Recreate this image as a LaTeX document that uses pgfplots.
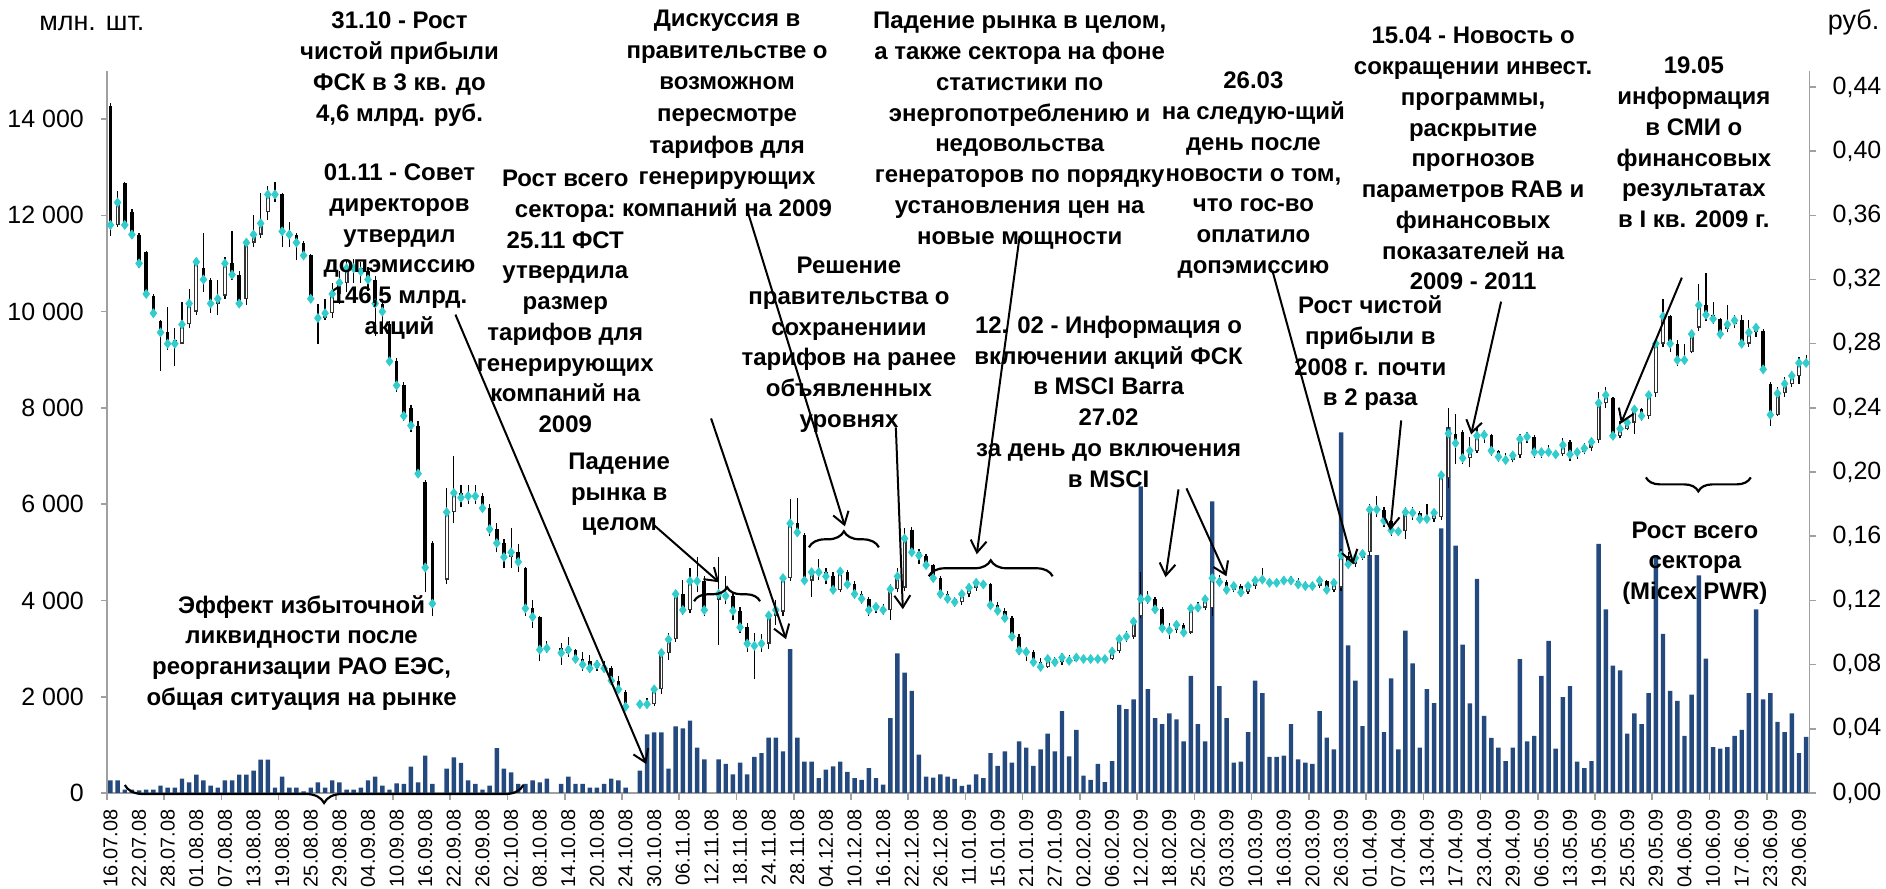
\documentclass[border=0pt]{standalone}
\usepackage{fontspec}
\setmainfont{Liberation Sans}
\usepackage{pgfplots}
\pgfplotsset{compat=1.18}
\usepackage{pgfplotstable}
\usetikzlibrary{arrows.meta,decorations.pathreplacing}
\definecolor{barblue}{RGB}{35,73,126}
\definecolor{dia}{RGB}{51,204,204}
\definecolor{axgray}{RGB}{160,160,160}

\pgfplotstableread{
x vol o h l c
0 263 0.428 0.430 0.347 0.354
1 263 0.354 0.375 0.353 0.368
2 69 0.380 0.381 0.352 0.354
3 69 0.362 0.364 0.345 0.348
4 55 0.348 0.349 0.327 0.330
5 69 0.337 0.338 0.309 0.311
6 69 0.310 0.311 0.296 0.299
7 152 0.294 0.295 0.263 0.287
8 111 0.287 0.303 0.276 0.280
9 111 0.282 0.290 0.266 0.280
10 297 0.280 0.306 0.280 0.292
11 221 0.292 0.314 0.290 0.305
12 380 0.300 0.333 0.298 0.331
13 263 0.327 0.349 0.312 0.320
14 152 0.320 0.321 0.299 0.305
15 111 0.305 0.320 0.298 0.308
16 263 0.310 0.334 0.308 0.330
17 263 0.330 0.350 0.320 0.323
18 380 0.323 0.325 0.304 0.305
19 380 0.308 0.346 0.304 0.343
20 463 0.343 0.360 0.340 0.348
21 692 0.348 0.374 0.346 0.355
22 692 0.362 0.378 0.357 0.373
23 111 0.373 0.381 0.368 0.373
24 339 0.373 0.374 0.340 0.350
25 111 0.350 0.356 0.340 0.348
26 111 0.348 0.349 0.332 0.343
27 35 0.343 0.344 0.332 0.335
28 111 0.335 0.336 0.307 0.308
29 221 0.298 0.305 0.280 0.296
30 111 0.296 0.308 0.295 0.299
31 263 0.299 0.318 0.296 0.311
32 221 0.311 0.325 0.305 0.318
33 69 0.318 0.332 0.312 0.327
34 69 0.327 0.333 0.318 0.327
35 111 0.327 0.331 0.318 0.325
36 263 0.325 0.328 0.313 0.320
37 339 0.320 0.322 0.285 0.305
38 152 0.305 0.308 0.290 0.300
39 69 0.292 0.294 0.266 0.269
40 200 0.269 0.271 0.250 0.254
41 187 0.254 0.256 0.232 0.235
42 546 0.240 0.242 0.225 0.229
43 221 0.229 0.232 0.197 0.199
44 775 0.194 0.195 0.125 0.1405
45 187 0.156 0.157 0.110 0.118
47 505 0.133 0.190 0.130 0.175
48 740 0.175 0.210 0.168 0.187
49 625 0.187 0.192 0.178 0.184
50 263 0.184 0.192 0.180 0.185
51 187 0.185 0.192 0.180 0.185
52 69 0.185 0.187 0.175 0.1775
53 152 0.1775 0.180 0.160 0.1644
54 934 0.1644 0.168 0.150 0.1557
55 505 0.1557 0.158 0.140 0.147
56 430 0.147 0.165 0.140 0.150
57 187 0.150 0.155 0.138 0.144
58 187 0.140 0.141 0.110 0.115
59 263 0.115 0.120 0.103 0.1097
60 221 0.1097 0.110 0.082 0.0893
61 297 0.0893 0.095 0.087 0.0902
63 187 0.0902 0.0935 0.080 0.0873
64 339 0.0873 0.0975 0.085 0.0893
65 187 0.0893 0.090 0.082 0.0835
66 187 0.0835 0.088 0.076 0.080
67 111 0.082 0.086 0.075 0.0777
68 111 0.0777 0.083 0.076 0.080
69 187 0.080 0.082 0.076 0.0777
70 297 0.0777 0.079 0.068 0.070
71 263 0.070 0.073 0.062 0.0646
72 111 0.063 0.064 0.051 0.0538
74 463 0.0538 0.058 0.053 0.0553
75 1217 0.0553 0.059 0.054 0.0553
76 1259 0.0553 0.066 0.054 0.0646
77 1259 0.0646 0.090 0.062 0.0873
78 505 0.0873 0.100 0.083 0.0957
79 1383 0.0957 0.126 0.094 0.124
80 1342 0.124 0.133 0.111 0.114
81 1501 0.114 0.140 0.112 0.132
82 940 0.132 0.147 0.125 0.132
83 700 0.132 0.135 0.110 0.114
85 700 0.120 0.147 0.092 0.124
86 603 0.124 0.135 0.118 0.1228
87 389 0.1228 0.125 0.108 0.1135
88 632 0.1135 0.116 0.100 0.1033
89 389 0.1033 0.106 0.088 0.0931
90 749 0.0931 0.100 0.071 0.0917
91 827 0.0917 0.099 0.088 0.0931
92 1148 0.0931 0.113 0.090 0.1106
93 1148 0.1106 0.120 0.105 0.114
94 866 0.113 0.136 0.110 0.1339
95 2986 0.1339 0.183 0.132 0.168
96 1148 0.168 0.184 0.160 0.1624
97 652 0.161 0.162 0.130 0.1324
98 652 0.1324 0.140 0.122 0.1376
99 311 0.1376 0.146 0.133 0.1376
100 486 0.1376 0.140 0.130 0.135
101 554 0.135 0.138 0.124 0.1266
102 652 0.1266 0.140 0.125 0.138
103 438 0.138 0.139 0.127 0.130
104 311 0.130 0.132 0.121 0.124
105 272 0.124 0.126 0.118 0.121
106 515 0.121 0.122 0.110 0.114
107 311 0.114 0.118 0.112 0.116
108 175 0.116 0.118 0.111 0.114
109 1556 0.114 0.130 0.108 0.127
110 2898 0.127 0.140 0.125 0.135
111 2500 0.128 0.165 0.126 0.1586
112 2120 0.164 0.166 0.148 0.150
113 797 0.150 0.152 0.143 0.148
114 340 0.148 0.149 0.140 0.142
115 321 0.142 0.143 0.132 0.1339
116 389 0.1339 0.135 0.122 0.124
117 340 0.124 0.126 0.119 0.121
118 292 0.121 0.122 0.116 0.119
119 146 0.119 0.126 0.117 0.124
120 175 0.124 0.130 0.122 0.128
121 389 0.128 0.133 0.126 0.131
122 311 0.131 0.133 0.127 0.130
123 827 0.130 0.131 0.115 0.117
124 564 0.117 0.119 0.111 0.1135
125 866 0.1135 0.115 0.107 0.109
126 632 0.109 0.110 0.095 0.0975
127 1070 0.0975 0.099 0.086 0.0888
128 943 0.0888 0.091 0.082 0.0879
129 564 0.0879 0.089 0.080 0.0815
130 905 0.0815 0.084 0.077 0.0786
131 1235 0.0786 0.086 0.078 0.0835
132 866 0.0835 0.085 0.079 0.0815
133 1702 0.0815 0.087 0.080 0.0844
134 759 0.0844 0.086 0.081 0.0824
135 1313 0.0824 0.087 0.082 0.0844
136 360 0.0844 0.086 0.082 0.0835
137 272 0.0835 0.085 0.082 0.0835
138 603 0.0835 0.085 0.082 0.0835
139 224 0.0835 0.085 0.082 0.0835
140 661 0.0835 0.091 0.083 0.0882
141 1829 0.0882 0.098 0.087 0.096
142 1741 0.096 0.101 0.094 0.0975
143 1945 0.0975 0.108 0.096 0.1068
144 6370 0.110 0.138 0.109 0.1208
145 2159 0.1208 0.126 0.118 0.121
146 1556 0.121 0.122 0.112 0.1144
147 1430 0.1144 0.116 0.100 0.1027
148 1653 0.1027 0.106 0.096 0.1013
149 1527 0.1013 0.107 0.100 0.1048
150 1070 0.1048 0.106 0.097 0.100
151 2432 0.100 0.117 0.099 0.115
152 1430 0.115 0.119 0.113 0.1155
153 1070 0.1155 0.123 0.114 0.1208
154 6059 0.115 0.137 0.110 0.1339
155 2218 0.1339 0.136 0.129 0.1315
156 1556 0.1315 0.133 0.124 0.1266
157 632 0.1266 0.131 0.125 0.129
158 652 0.129 0.130 0.122 0.125
159 1264 0.125 0.131 0.124 0.129
160 2334 0.129 0.135 0.127 0.1324
161 2072 0.1324 0.140 0.130 0.133
162 749 0.133 0.134 0.129 0.131
163 749 0.131 0.133 0.129 0.131
164 778 0.131 0.134 0.130 0.1324
165 1430 0.1324 0.135 0.130 0.1324
166 700 0.1324 0.134 0.128 0.130
167 632 0.130 0.132 0.127 0.129
168 603 0.129 0.131 0.127 0.129
169 1702 0.129 0.134 0.128 0.1324
170 1148 0.1324 0.133 0.125 0.1266
171 905 0.1266 0.133 0.125 0.131
172 7489 0.128 0.152 0.126 0.148
173 3064 0.148 0.150 0.140 0.1426
174 2334 0.1426 0.150 0.141 0.1464
175 1391 0.1464 0.151 0.145 0.149
176 4941 0.150 0.180 0.148 0.1766
177 4941 0.1766 0.185 0.172 0.1766
178 1264 0.1766 0.178 0.166 0.1697
179 2383 0.1697 0.174 0.160 0.1638
180 905 0.1638 0.166 0.160 0.163
181 3375 0.163 0.178 0.158 0.175
182 2694 0.175 0.178 0.170 0.1746
183 943 0.1746 0.176 0.168 0.1708
184 2159 0.1708 0.180 0.169 0.1708
185 1867 0.1708 0.177 0.169 0.1746
186 5495 0.172 0.200 0.170 0.198
187 7600 0.196 0.240 0.190 0.224
188 5140 0.224 0.236 0.205 0.218
189 3080 0.225 0.226 0.205 0.2087
190 1860 0.2087 0.222 0.203 0.2133
191 4450 0.2133 0.228 0.212 0.2226
192 1600 0.2226 0.226 0.218 0.2232
193 1145 0.2232 0.224 0.210 0.2133
194 940 0.2133 0.214 0.206 0.2095
195 660 0.2095 0.212 0.205 0.2075
196 940 0.2075 0.213 0.206 0.2104
197 2780 0.2104 0.224 0.209 0.2206
198 1070 0.2206 0.225 0.218 0.222
199 1187 0.222 0.223 0.209 0.2124
200 2432 0.2124 0.215 0.209 0.2124
201 3161 0.2124 0.217 0.210 0.2124
202 924 0.2124 0.214 0.209 0.211
203 1994 0.211 0.221 0.210 0.2168
204 2218 0.219 0.220 0.207 0.211
205 652 0.211 0.214 0.208 0.2124
206 515 0.2124 0.218 0.211 0.2148
207 661 0.2148 0.221 0.213 0.2188
208 5174 0.2197 0.250 0.218 0.243
209 3813 0.243 0.253 0.240 0.248
210 2645 0.246 0.247 0.221 0.2226
211 2548 0.2226 0.232 0.221 0.227
212 1235 0.227 0.234 0.226 0.2308
213 1653 0.2308 0.241 0.224 0.239
214 1430 0.239 0.240 0.232 0.235
215 2072 0.235 0.250 0.233 0.248
216 4941 0.249 0.283 0.247 0.280
217 3307 0.280 0.308 0.278 0.297
218 2120 0.297 0.298 0.275 0.280
219 1916 0.280 0.282 0.266 0.2698
220 1187 0.2698 0.280 0.267 0.2698
221 2042 0.275 0.288 0.274 0.286
222 4523 0.290 0.317 0.288 0.304
223 2791 0.304 0.324 0.294 0.298
224 953 0.298 0.306 0.292 0.2954
225 924 0.2954 0.296 0.283 0.286
226 953 0.289 0.304 0.287 0.292
227 1187 0.292 0.298 0.290 0.2945
228 1313 0.2945 0.298 0.278 0.280
229 2072 0.280 0.295 0.278 0.287
230 3813 0.287 0.292 0.284 0.290
231 1945 0.288 0.289 0.262 0.264
232 2072 0.255 0.256 0.229 0.2357
233 1478 0.2357 0.253 0.235 0.249
234 1264 0.249 0.259 0.247 0.255
235 1653 0.255 0.263 0.253 0.260
236 827 0.260 0.272 0.255 0.268
237 1167 0.268 0.273 0.266 0.268
}\data

\tikzset{
  ann/.style={font=\bfseries\fontsize{12}{15.4}\selectfont, align=center, inner sep=0pt, anchor=north},
  arr/.style={line width=1pt, -{Straight Barb[length=6pt,width=8pt]}},
  br/.style={line width=1.1pt, decorate}
}

\begin{document}
\begin{tikzpicture}
\begin{scope}[x=0.5pt,y=-0.5pt,shift={(-53.5pt,397pt)}]
\useasboundingbox (0,0) rectangle (1886,890);
\end{scope}

\begin{pgfinterruptboundingbox}
\begin{axis}[
  at={(0pt,0pt)}, anchor=south west,
  scale only axis, width=852.5pt, height=361.5pt,
  clip=false,
  xmin=-0.5, xmax=237.5, ymin=0, ymax=15000,
  scaled y ticks=false,
  axis y line*=left, axis x line*=bottom,
  axis line style={axgray, line width=0.8pt},
  tick align=outside, major tick length=3pt,
  ytick={0,2000,4000,6000,8000,10000,12000,14000},
  yticklabels={0,2 000,4 000,6 000,8 000,10 000,12 000,14 000},
  ytick style={axgray, line width=0.8pt},
  yticklabel style={font=\fontsize{12.5}{14}\selectfont, xshift=-5pt},
  xtick={0,4,...,236},
  xtick style={draw=none},
  xticklabels={16.07.08,22.07.08,28.07.08,01.08.08,07.08.08,13.08.08,19.08.08,25.08.08,29.08.08,04.09.08,10.09.08,16.09.08,22.09.08,26.09.08,02.10.08,08.10.08,14.10.08,20.10.08,24.10.08,30.10.08,06.11.08,12.11.08,18.11.08,24.11.08,28.11.08,04.12.08,10.12.08,16.12.08,22.12.08,26.12.08,11.01.09,15.01.09,21.01.09,27.01.09,02.02.09,06.02.09,12.02.09,18.02.09,25.02.09,03.03.09,10.03.09,16.03.09,20.03.09,26.03.09,01.04.09,07.04.09,13.04.09,17.04.09,23.04.09,29.04.09,06.05.09,13.05.09,19.05.09,25.05.09,29.05.09,04.06.09,10.06.09,17.06.09,23.06.09,29.06.09},
  xticklabel style={font=\fontsize{10}{11}\selectfont, inner sep=1pt, yshift=-4pt, rotate=90, anchor=east},
]
\addplot[ybar, bar width=0.62, fill=barblue, draw=none] table[x=x, y=vol] {\data};
\pgfplotsinvokeforeach{0,...,29}{
  \draw[axgray, line width=0.8pt] (axis cs:{8*#1-0.5},0) -- ++(0pt,-3.5pt);
}
\end{axis}

\begin{axis}[
  at={(0pt,0pt)}, anchor=south west,
  scale only axis, width=852.5pt, height=361.5pt,
  clip=false,
  xmin=-0.5, xmax=237.5, ymin=0, ymax=0.45,
  axis y line*=right, axis x line=none,
  axis line style={axgray, line width=0.8pt},
  tick align=outside, major tick length=3pt,
  ytick={0,0.04,0.08,0.12,0.16,0.2,0.24,0.28,0.32,0.36,0.4,0.44},
  yticklabels={{0,00},{0,04},{0,08},{0,12},{0,16},{0,20},{0,24},{0,28},{0,32},{0,36},{0,40},{0,44}},
  ytick style={axgray, line width=0.8pt},
  yticklabel style={font=\fontsize{12.5}{14}\selectfont, xshift=5pt},
]
% wicks
\addplot[draw=none, mark=none, forget plot,
  error bars/.cd, y dir=plus, y explicit, error mark=none,
  error bar style={draw=black, line width=0.6pt}]
  table[x=x, y=l, y error expr=\thisrow{h}-\thisrow{l}] {\data};
% down bodies
\addplot[draw=none, mark=none, forget plot,
  restrict expr to domain={\thisrow{o}-\thisrow{c}}{0.00001:1},
  error bars/.cd, y dir=plus, y explicit, error mark=none,
  error bar style={draw=black, line width=1.8pt}]
  table[x=x, y=c, y error expr=\thisrow{o}-\thisrow{c}] {\data};
% up bodies
\addplot[draw=none, mark=none, forget plot,
  restrict expr to domain={\thisrow{c}-\thisrow{o}}{0:1},
  error bars/.cd, y dir=plus, y explicit, error mark=none,
  error bar style={draw=black!80, line width=2pt}]
  table[x=x, y=o, y error expr=\thisrow{c}-\thisrow{o}] {\data};
\addplot[draw=none, mark=none, forget plot,
  restrict expr to domain={\thisrow{c}-\thisrow{o}}{0.003:1},
  error bars/.cd, y dir=plus, y explicit, error mark=none,
  error bar style={draw=white, line width=0.8pt, shorten <=0.6pt, shorten >=0.6pt}]
  table[x=x, y=o, y error expr=\thisrow{c}-\thisrow{o}] {\data};
% close markers
\addplot[only marks, mark=diamond*, mark size=2.2pt, color=dia, mark options={draw=dia, fill=dia}]
  table[x=x, y=c] {\data};
\end{axis}
\end{pgfinterruptboundingbox}

\begin{scope}[x=0.5pt,y=-0.5pt,shift={(-53.5pt,397pt)}]
\node[font=\fontsize{13.5}{15}\selectfont] at (92,24) {млн. шт.};
\node[font=\fontsize{13.5}{15}\selectfont] at (1856,22) {руб.};

\node[ann] at (400,10.5) {\rule{0pt}{9pt}31.10 - Рост\\чистой прибыли\\ФСК в 3 кв. до\\4,6 млрд. руб.};
\node[ann] at (400,162.5) {\rule{0pt}{9pt}01.11 - Совет\\директоров\\утвердил\\допэмиссию\\146,5 млрд.\\акций};
\node[ann] at (566,168.5) {\rule{0pt}{9pt}Рост всего\\сектора:\\25.11 ФСТ\\утвердила\\размер\\тарифов для\\генерирующих\\компаний  на\\2009};
\node[ann] at (620,451.5) {\rule{0pt}{9pt}Падение\\рынка в\\целом};
\node[ann] at (302,595.5) {\rule{0pt}{9pt}Эффект избыточной\\ликвидности после\\реорганизации РАО ЕЭС,\\общая ситуация на рынке};
\node[ann, font=\bfseries\fontsize{12}{15.8}\selectfont] at (728,8.5) {\rule{0pt}{9pt}Дискуссия в\\правительстве  о\\возможном\\пересмотре\\тарифов для\\генерирующих\\компаний  на 2009};
\node[ann] at (1021,10.5) {\rule{0pt}{9pt}Падение рынка в целом,\\а также сектора на фоне\\статистики по\\энергопотреблению и\\недовольства\\генераторов по порядку\\установления цен на\\новые мощности};
\node[ann] at (850,255.5) {\rule{0pt}{9pt}Решение\\правительства о\\сохранениии\\тарифов на ранее\\объявленных\\уровнях};
\node[ann] at (1110,315.5) {\rule{0pt}{9pt}12. 02 - Информация о\\включении акций ФСК\\в MSCI Barra\\27.02\\за день до включения\\в MSCI};
\node[ann] at (1255,70.5) {\rule{0pt}{9pt}26.03\\на следую-щий\\день после\\новости о том,\\что гос-во\\оплатило\\допэмиссию};
\node[ann] at (1475,25.5) {\rule{0pt}{9pt}15.04 - Новость о\\сокращении инвест.\\программы,\\раскрытие\\прогнозов\\параметров RAB и\\финансовых\\показателей на\\2009 - 2011};
\node[ann] at (1372,295.5) {\rule{0pt}{9pt}Рост чистой\\прибыли в\\2008 г. почти\\в 2 раза};
\node[ann] at (1696,55.5) {\rule{0pt}{9pt}19.05\\информация\\в СМИ о\\финансовых\\результатах\\в I кв. 2009 г.};
\node[ann] at (1697,520.5) {\rule{0pt}{9pt}Рост всего\\сектора\\(Micex PWR)};

% arrows
\draw[arr] (456,315) -- (647,765);
\draw[arr] (655,526) -- (720,583);
\draw[arr] (712,419) -- (787,640);
\draw[arr] (749,213) -- (846,527);
\draw[arr] (897,428) -- (904,610);
\draw[arr] (1021,236) -- (978,555);
\draw[arr] (1180,490) -- (1167,578);
\draw[arr] (1188,489) -- (1228,577);
\draw[arr] (1274,271) -- (1355,565);
\draw[arr] (1403,421) -- (1392,531);
\draw[arr] (1503,302) -- (1473,435);
\draw[arr] (1684,278) -- (1623,424);

% braces
\draw[br, decoration={brace, amplitude=9pt, mirror}] (125,786) -- (524,786);
\draw[br, decoration={brace, amplitude=7pt}] (695,602) -- (761,602);
\draw[br, decoration={brace, amplitude=8pt}] (810,548) -- (880,548);
\draw[br, decoration={brace, amplitude=8pt}] (930,577) -- (1054,577);
\draw[br, decoration={brace, amplitude=7pt, mirror}] (1648,478) -- (1753,478);
\end{scope}
\end{tikzpicture}
\end{document}
